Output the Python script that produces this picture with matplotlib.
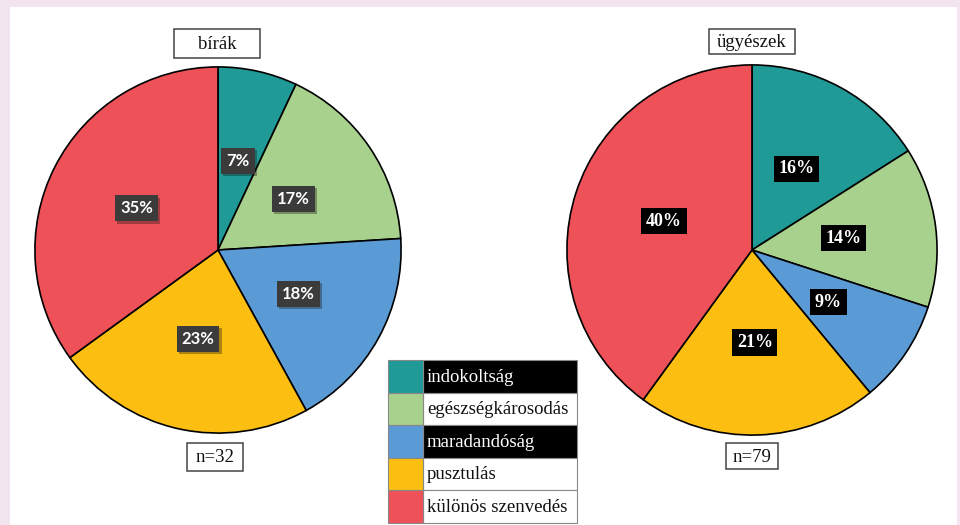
import matplotlib
matplotlib.use("Agg")
import matplotlib.pyplot as plt
from matplotlib.patches import Rectangle
import matplotlib.patheffects as pe

categories = ["indokoltság", "egészségkárosodás", "maradandóság", "pusztulás", "különös szenvedés"]
colors = ["#1f9a96", "#a9d18e", "#5b9bd5", "#fcbf11", "#ef5158"]
birak_values = [7, 17, 18, 23, 35]
ugyeszek_values = [16, 14, 9, 21, 40]
titles = ["bírák", "ügyészek"]
n_labels = ["n=32", "n=79"]

W, H = 960, 525
fig = plt.figure(figsize=(W / 100, H / 100), dpi=100)
fig.patch.set_facecolor("#f2e5ef")

def px_rect(x0, y0, x1, y1):
    return [x0 / W, 1 - y1 / H, (x1 - x0) / W, (y1 - y0) / H]

# white panel
fig.add_artist(Rectangle((10 / W, 0), (957 - 10) / W, (H - 7) / H,
                         transform=fig.transFigure, facecolor="white",
                         edgecolor="none", zorder=-5))

serif = "Liberation Serif"

def draw_pie(cx, cy, r, values, style):
    ax = fig.add_axes(px_rect(cx - r, cy - r, cx + r, cy + r))
    wedges, texts, autotexts = ax.pie(
        values, colors=colors, startangle=90, counterclock=False,
        radius=1.0, pctdistance=0.5, autopct="%.0f%%",
        wedgeprops=dict(edgecolor="black", linewidth=1.2))
    ax.set_xlim(-1.005, 1.005)
    ax.set_ylim(-1.005, 1.005)
    ax.axis("off")
    for t in autotexts:
        t.set_color("white")
        if style == "sans":
            t.set_fontfamily("Lato")
            t.set_fontweight("bold")
            t.set_fontsize(12)
            t.set_bbox(dict(boxstyle="square,pad=0.3", facecolor="#3b3b3b", edgecolor="none"))
            t.get_bbox_patch().set_path_effects(
                [pe.SimplePatchShadow(offset=(1.5, -1.5), alpha=0.35), pe.Normal()])
        else:
            t.set_fontfamily(serif)
            t.set_fontweight("bold")
            t.set_fontsize(13)
            t.set_bbox(dict(boxstyle="square,pad=0.25", facecolor="black", edgecolor="none"))
    return ax

draw_pie(218, 250, 184, birak_values, "sans")
draw_pie(752, 250, 186, ugyeszek_values, "serif")

# overlay in pixel coordinates
ov = fig.add_axes([0, 0, 1, 1], zorder=10)
ov.set_xlim(0, W)
ov.set_ylim(H, 0)
ov.axis("off")
ov.patch.set_alpha(0)

def box_text(x0, y0, x1, y1, s):
    ov.add_patch(Rectangle((x0, y0), x1 - x0, y1 - y0, facecolor="white",
                           edgecolor="#444444", linewidth=1.1))
    ov.text((x0 + x1) / 2, (y0 + y1) / 2 + 1, s, ha="center", va="center",
            fontfamily=serif, fontsize=13.5, color="#111111")

box_text(174, 29, 260, 58, titles[0])
box_text(709, 29, 795, 54, titles[1])
box_text(187, 443, 243, 471, n_labels[0])
box_text(726, 443, 778, 469, n_labels[1])

# legend table
lx0, lx1, sw = 388, 577, 423
ly0, rh = 360, 32.5
for i, (cat, col) in enumerate(zip(categories, colors)):
    y = ly0 + i * rh
    dark = i in (0, 2)
    ov.add_patch(Rectangle((sw, y), lx1 - sw, rh,
                           facecolor="black" if dark else "white",
                           edgecolor="#888888", linewidth=0.8))
    ov.add_patch(Rectangle((lx0, y), sw - lx0, rh, facecolor=col,
                           edgecolor="#888888", linewidth=0.8))
    ov.text(sw + 4, y + rh / 2 + 1, cat, ha="left", va="center",
            fontfamily=serif, fontsize=13.5,
            color="white" if dark else "#111111")

fig.savefig("out.png", dpi=100, facecolor=fig.get_facecolor())
